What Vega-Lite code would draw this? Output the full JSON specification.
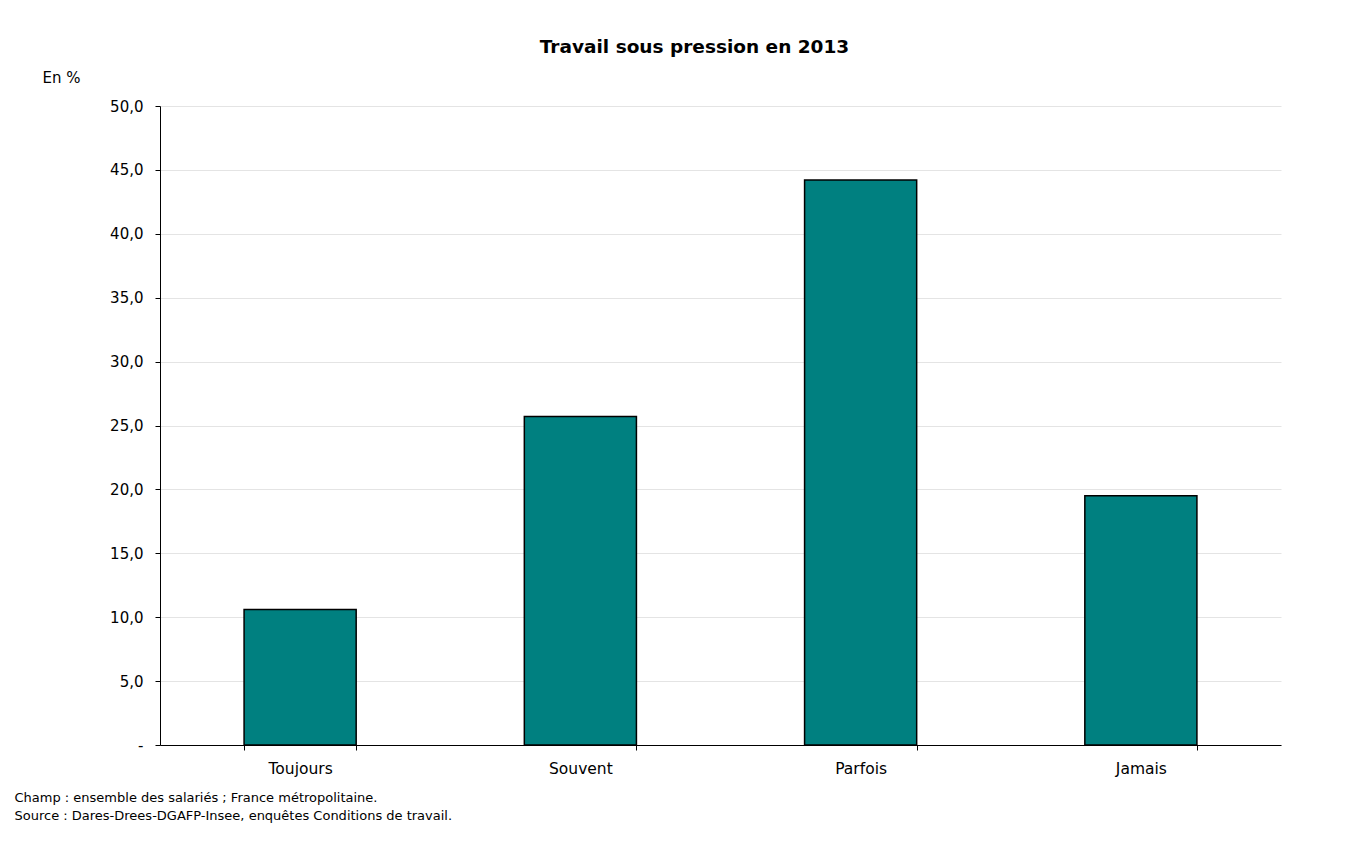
{
  "$schema": "https://vega.github.io/schema/vega-lite/v6.json",
  "width": 1121,
  "height": 639,
  "autosize": {"type": "none"},
  "padding": {"left": 160, "top": 106, "right": 78, "bottom": 101},
  "background": "white",
  "title": {
    "text": "Travail sous pression en 2013",
    "font": "DejaVu Sans",
    "fontSize": 18.5,
    "fontWeight": "bold",
    "color": "black",
    "anchor": "middle",
    "dx": -26,
    "baseline": "alphabetic",
    "offset": -1
  },
  "data": {
    "values": [
      {"categorie": "Toujours", "valeur": 10.6},
      {"categorie": "Souvent", "valeur": 25.7},
      {"categorie": "Parfois", "valeur": 44.2},
      {"categorie": "Jamais", "valeur": 19.5}
    ]
  },
  "mark": {"type": "bar", "color": "#008080", "stroke": "black", "strokeWidth": 1.5},
  "encoding": {
    "x": {
      "field": "categorie",
      "type": "nominal",
      "sort": null,
      "scale": {"paddingInner": 0.6, "paddingOuter": 0.3},
      "axis": {
        "labelAngle": 0,
        "tickBand": "extent",
        "domainColor": "black",
        "tickColor": "black",
        "tickSize": 5,
        "labelPadding": 11,
        "labelFont": "DejaVu Sans",
        "labelFontSize": 15.5,
        "labelColor": "black",
        "title": ["Champ : ensemble des salariés ; France métropolitaine.", "Source : Dares-Drees-DGAFP-Insee, enquêtes Conditions de travail."],
        "titleFont": "DejaVu Sans",
        "titleFontSize": 13,
        "titleFontWeight": "normal",
        "titleColor": "black",
        "titleAlign": "left",
        "titleAnchor": "start",
        "titleX": -146,
        "titleY": 56,
        "titleBaseline": "alphabetic",
        "titleLineHeight": 18
      }
    },
    "y": {
      "field": "valeur",
      "type": "quantitative",
      "scale": {"domain": [0, 50], "nice": false},
      "axis": {
        "values": [0, 5, 10, 15, 20, 25, 30, 35, 40, 45, 50],
        "labelExpr": "datum.value == 0 ? '-' : replace(format(datum.value, '.1f'), '.', ',')",
        "domainColor": "black",
        "tickColor": "black",
        "tickSize": 5,
        "labelPadding": 12,
        "labelFont": "DejaVu Sans",
        "labelFontSize": 15,
        "labelColor": "black",
        "gridColor": "#e4e4e4",
        "title": "En %",
        "titleAngle": 0,
        "titleFont": "DejaVu Sans",
        "titleFontSize": 15,
        "titleFontWeight": "normal",
        "titleColor": "black",
        "titleAlign": "left",
        "titleBaseline": "middle",
        "titleX": -118,
        "titleY": -29
      }
    }
  },
  "config": {"view": {"stroke": null}}
}
